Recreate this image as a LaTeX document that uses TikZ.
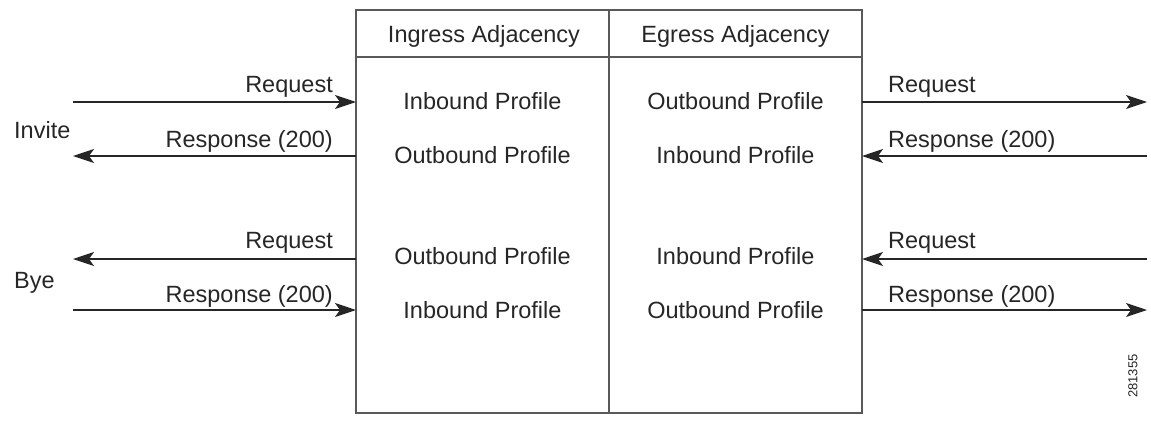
\documentclass[tikz,border=0pt]{standalone}
\usepackage{fontspec}
\setmainfont{Liberation Sans}
\usetikzlibrary{arrows.meta}
\begin{document}
\begin{tikzpicture}[x=1pt,y=-1pt,
  lbl/.style={font=\fontsize{23.5}{28}\selectfont, text=black!85, inner sep=0pt},
  boxline/.style={draw=black!65, line width=1.3pt},
  msg/.style={draw=black!85, line width=1.4pt, -{Stealth[length=21pt,width=14pt,inset=5pt]}}]
\useasboundingbox (0,0) rectangle (1151,421);
% box
\draw[boxline] (356,10) rectangle (862,413);
\draw[boxline] (609,10) -- (609,413);
\draw[boxline] (356,57) -- (862,57);
\node[lbl] (hi) at (484,36) {Ingress Adjacency};
\node[lbl] (he) at (735.5,36) {Egress Adjacency};
% profiles
\node[lbl] (p1) at (482.5,101) {Inbound Profile};
\node[lbl] (p2) at (482.5,155) {Outbound Profile};
\node[lbl] (p3) at (482.5,256) {Outbound Profile};
\node[lbl] (p4) at (482.5,310) {Inbound Profile};
\node[lbl] (q1) at (735.5,101) {Outbound Profile};
\node[lbl] (q2) at (735.5,155) {Inbound Profile};
\node[lbl] (q3) at (735.5,256) {Inbound Profile};
\node[lbl] (q4) at (735.5,310) {Outbound Profile};
% endpoints
\coordinate (L1) at (73,102); \coordinate (B1) at (356,102);
\coordinate (L2) at (73,156); \coordinate (B2) at (356,156);
\coordinate (L3) at (73,259); \coordinate (B3) at (356,259);
\coordinate (L4) at (73,310); \coordinate (B4) at (356,310);
\coordinate (C1) at (862,102); \coordinate (R1) at (1147,102);
\coordinate (C2) at (862,156); \coordinate (R2) at (1147,156);
\coordinate (C3) at (862,259); \coordinate (R3) at (1147,259);
\coordinate (C4) at (862,310); \coordinate (R4) at (1147,310);
% left arrows
\draw[msg] (L1) -- (B1);
\draw[msg] (B2) -- (L2);
\draw[msg] (B3) -- (L3);
\draw[msg] (L4) -- (B4);
% right arrows
\draw[msg] (C1) -- (R1);
\draw[msg] (R2) -- (C2);
\draw[msg] (R3) -- (C3);
\draw[msg] (C4) -- (R4);
% labels left
\node[lbl, anchor=east] (t1) at (333,87) {Request};
\node[lbl, anchor=east] (t2) at (333,141) {Response (200)};
\node[lbl, anchor=east] (t3) at (333,243) {Request};
\node[lbl, anchor=east] (t4) at (333,296) {Response (200)};
\node[lbl, anchor=west] (inv) at (14,130) {Invite};
\node[lbl, anchor=west] (bye) at (14,283) {Bye};
% labels right
\node[lbl, anchor=west] (u1) at (888,87) {Request};
\node[lbl, anchor=west] (u2) at (888,141) {Response (200)};
\node[lbl, anchor=west] (u3) at (888,243) {Request};
\node[lbl, anchor=west] (u4) at (888,296) {Response (200)};
% figure number
\node[font=\fontsize{13}{15}\selectfont, text=black!85, rotate=90, inner sep=0pt] (fig) at (1133,376) {281355};
\end{tikzpicture}
\end{document}
